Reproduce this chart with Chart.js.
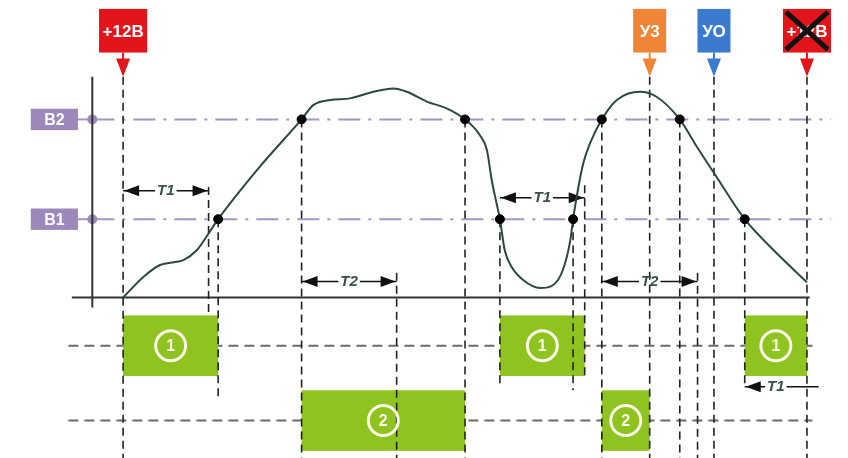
<!DOCTYPE html>
<html>
<head>
<meta charset="utf-8">
<script src="https://cdn.jsdelivr.net/npm/chart.js@4.4.1/dist/chart.umd.min.js"></script>
<style>
  html, body { margin: 0; padding: 0; background: #fff; overflow: hidden; }
  #wrap { width: 848px; height: 458px; }
  canvas { display: block; }
</style>
</head>
<body>
<div id="wrap"><canvas id="c"></canvas></div>
<script>
// signal: time (arb. units, +12В at 0, off at 100), voltage (arb. units, B2 = 100)
const curveT = [0, 3, 5.4, 7.8, 8.8, 10.8, 12.5, 13.9, 20, 26.1, 27.8, 30.3, 33.2, 36.6, 39.5, 41.5, 44.4, 47.3,
                50, 52.2, 53.2, 53.9, 54.6, 55.1, 55.8, 56.8, 58.5, 61, 62.9, 64.3, 65.4, 65.8, 66.5, 67.3, 68.3, 70,
                72.2, 75.6, 78, 81.4, 83.9, 86.6, 90.9, 95.1, 100];
const curveV = [0, 11.7, 18.3, 20.1, 21, 26.7, 36, 44, 73.5, 100, 108, 110.9, 111.8, 115.5, 117.4, 115.5, 110, 106.2,
                100, 91, 82.8, 66, 53.1, 44, 26.7, 17.3, 9.9, 5.4, 7.1, 15.5, 32.3, 44, 60.4, 75.5, 86.8, 100,
                110.9, 115.5, 112.7, 100, 84.7, 68.8, 44, 26.7, 8.6];

// thresholds
const levelNames = ["В2", "В1"];
const levelValues = [100, 44];

// points where the signal crosses a threshold
const crossT = [13.9, 26.1, 50, 55.1, 65.8, 70, 81.4, 90.9];
const crossV = [44, 100, 100, 44, 44, 100, 100, 44];

// events on top
const markerLabels = ["+12В", "У3", "УО", "+12В"];
const markerT = [0, 77, 86.4, 100];
const markerCrossed = [false, false, false, true];

// vertical guides: time, top, bottom (voltage units)
const guideT      = [0, 12.5, 13.9, 26.1, 40, 50, 55.1, 65.8, 67.5, 70, 77, 81.4, 84, 86.4, 90.9, 100];
const guideTop    = [124, 62, 44, 100, 14, 100, 44, 44, 63, 100, 124, 100, 14, 124, 44, 124];
const guideBottom = [-90, -10, -56, -90, -90, -90, -48, -52, -45, -90, -90, -90, -90, -90, -50, -90];

// output pulses: row (1 or 2), start, end
const pulseRow   = [1, 1, 1, 2, 2];
const pulseStart = [0, 55.1, 90.9, 26.1, 70];
const pulseEnd   = [13.9, 67.5, 100, 50, 77];
const rowV = [-27, -69];

// timing intervals
const intervalLabel = ["T1", "T2", "T1", "T2", "T1"];
const intervalStart = [0, 26.1, 55.1, 70, 90.9];
const intervalEnd   = [12.5, 40, 67.5, 84, 100];
const intervalV     = [60, 9, 56, 9, -50];
const intervalOpen  = [false, false, false, false, true];

const markerColors = { "+12В": "#e3151b", "У3": "#ef8535", "УО": "#3a7bd0" };
const FONT = '"Liberation Sans", Arial, sans-serif';

function head(ctx, x, y, dir) {
  ctx.beginPath();
  ctx.moveTo(x, y);
  ctx.lineTo(x - dir * 15, y - 5.5);
  ctx.lineTo(x - dir * 15, y + 5.5);
  ctx.closePath();
  ctx.fill();
}

const schemePlugin = {
  id: "scheme",
  beforeDatasetsDraw(chart) {
    const ctx = chart.ctx;
    const X = t => chart.scales.x.getPixelForValue(t);
    const Y = v => chart.scales.y.getPixelForValue(v);
    ctx.save();

    // rows of the outputs
    ctx.strokeStyle = "#6b6b6b";
    ctx.lineWidth = 2;
    ctx.setLineDash([10, 6]);
    rowV.forEach(v => {
      ctx.beginPath(); ctx.moveTo(X(-8), Y(v)); ctx.lineTo(X(100.8), Y(v)); ctx.stroke();
    });

    // pulses
    ctx.setLineDash([]);
    pulseRow.forEach((r, i) => {
      const v = rowV[r - 1];
      const x0 = X(pulseStart[i]), x1 = X(pulseEnd[i]);
      const y0 = Y(v + 17), y1 = Y(v - 17);
      ctx.fillStyle = "#8fc31f";
      ctx.fillRect(x0, y0, x1 - x0, y1 - y0);
    });

    // threshold lines
    levelValues.forEach((v, i) => {
      const y = Y(v);
      ctx.setLineDash([22, 8, 3, 8]);
      ctx.strokeStyle = "#a396c4";
      ctx.lineWidth = 2;
      ctx.beginPath(); ctx.moveTo(X(-4.5), y); ctx.lineTo(X(103.5), y); ctx.stroke();
      ctx.setLineDash([]);
      ctx.beginPath(); ctx.moveTo(X(-6.6), y); ctx.lineTo(X(-4.5), y); ctx.stroke();
      ctx.fillStyle = "#9d88bb";
      ctx.fillRect(X(-13.5), Y(v + 6), X(-6.6) - X(-13.5), Y(v - 6) - Y(v + 6));
      ctx.beginPath(); ctx.arc(X(-4.5), y, 5, 0, Math.PI * 2); ctx.fill();
      ctx.fillStyle = "#fff";
      ctx.font = "bold 16px " + FONT;
      ctx.textAlign = "center"; ctx.textBaseline = "middle";
      ctx.fillText(levelNames[i], (X(-13.5) + X(-6.6)) / 2, y + 1);
    });

    // axes
    ctx.strokeStyle = "#333";
    ctx.lineWidth = 2;
    ctx.beginPath();
    ctx.moveTo(X(-4.5), Y(124)); ctx.lineTo(X(-4.5), Y(-5.5));
    ctx.moveTo(X(-7.5), Y(0)); ctx.lineTo(X(100.4), Y(0));
    ctx.stroke();

    // vertical guides
    ctx.strokeStyle = "#222";
    ctx.lineWidth = 1.6;
    ctx.setLineDash([8, 5]);
    guideT.forEach((t, i) => {
      ctx.beginPath(); ctx.moveTo(X(t), Y(guideTop[i])); ctx.lineTo(X(t), Y(guideBottom[i])); ctx.stroke();
    });
    ctx.setLineDash([]);

    // pulse numbers
    pulseRow.forEach((r, i) => {
      const cx = (X(pulseStart[i]) + X(pulseEnd[i])) / 2, cy = Y(rowV[r - 1]);
      ctx.strokeStyle = "#fbfbe8";
      ctx.lineWidth = 3;
      ctx.beginPath(); ctx.arc(cx, cy, 15, 0, Math.PI * 2); ctx.stroke();
      ctx.fillStyle = "#fbfbe8";
      ctx.font = "bold 16px " + FONT;
      ctx.textAlign = "center"; ctx.textBaseline = "middle";
      ctx.fillText(String(r), cx, cy + 1);
    });

    // intervals
    ctx.font = "italic bold 15px " + FONT;
    intervalLabel.forEach((lab, i) => {
      const x0 = X(intervalStart[i]), x1 = X(intervalEnd[i]), y = Y(intervalV[i]);
      const mid = (x0 + x1) / 2, w = ctx.measureText(lab).width;
      ctx.fillStyle = "#111";
      ctx.strokeStyle = "#111";
      ctx.lineWidth = 1.5;
      ctx.beginPath();
      ctx.moveTo(x0, y); ctx.lineTo(mid - w / 2 - 2, y);
      ctx.moveTo(mid + w / 2 + 2, y);
      ctx.lineTo(intervalOpen[i] ? X(intervalEnd[i] + 1.7) : x1, y);
      ctx.stroke();
      head(ctx, x0 + 1, y, -1);
      if (!intervalOpen[i]) head(ctx, x1 - 1, y, 1);
      ctx.fillStyle = "#36504c";
      ctx.textAlign = "center"; ctx.textBaseline = "middle";
      ctx.fillText(lab, mid, y);
    });
    ctx.restore();
  },
  afterDatasetsDraw(chart) {
    const ctx = chart.ctx;
    const X = t => chart.scales.x.getPixelForValue(t);
    const Y = v => chart.scales.y.getPixelForValue(v);
    ctx.save();
    ctx.font = "bold 17px " + FONT;
    markerLabels.forEach((lab, i) => {
      const cx = X(markerT[i]);
      const w = Math.max(ctx.measureText(lab).width + 7, 33);
      const top = Y(162), bot = Y(137.5);
      const col = markerColors[lab];
      ctx.fillStyle = col;
      ctx.fillRect(cx - w / 2, top, w, bot - top);
      ctx.strokeStyle = col;
      ctx.lineWidth = 2;
      ctx.beginPath(); ctx.moveTo(cx, bot); ctx.lineTo(cx, bot + 8); ctx.stroke();
      ctx.beginPath();
      ctx.moveTo(cx - 7, bot + 6); ctx.lineTo(cx + 7, bot + 6); ctx.lineTo(cx, Y(124)); ctx.closePath();
      ctx.fill();
      ctx.fillStyle = "#fff";
      ctx.textAlign = "center"; ctx.textBaseline = "middle";
      ctx.fillText(lab, cx, (top + bot) / 2 + 2);
      if (markerCrossed[i]) {
        ctx.strokeStyle = "#111";
        ctx.lineWidth = 5;
        ctx.beginPath();
        ctx.moveTo(cx - w / 2 + 3, top + 3); ctx.lineTo(cx + w / 2 - 3, bot - 3);
        ctx.moveTo(cx + w / 2 - 3, top + 3); ctx.lineTo(cx - w / 2 + 3, bot - 3);
        ctx.stroke();
      }
    });
    ctx.restore();
  }
};

new Chart(document.getElementById("c"), {
  type: "line",
  data: {
    datasets: [
      {
        data: crossT.map((t, i) => ({ x: t, y: crossV[i] })),
        showLine: false,
        pointRadius: 4.5,
        pointBackgroundColor: "#000",
        pointBorderColor: "#000",
        order: 0
      },
      {
        data: curveT.map((t, i) => ({ x: t, y: curveV[i] })),
        borderColor: "#2c4a3c",
        borderWidth: 2,
        pointRadius: 0,
        cubicInterpolationMode: "monotone",
        fill: false,
        order: 1
      }
    ]
  },
  options: {
    responsive: true,
    maintainAspectRatio: false,
    animation: false,
    layout: { padding: 0, autoPadding: false },
    plugins: { legend: { display: false }, tooltip: { enabled: false } },
    scales: {
      x: { type: "linear", min: -18, max: 106, display: false },
      y: { type: "linear", min: -90, max: 167, display: false }
    }
  },
  plugins: [schemePlugin]
});
</script>
</body>
</html>
